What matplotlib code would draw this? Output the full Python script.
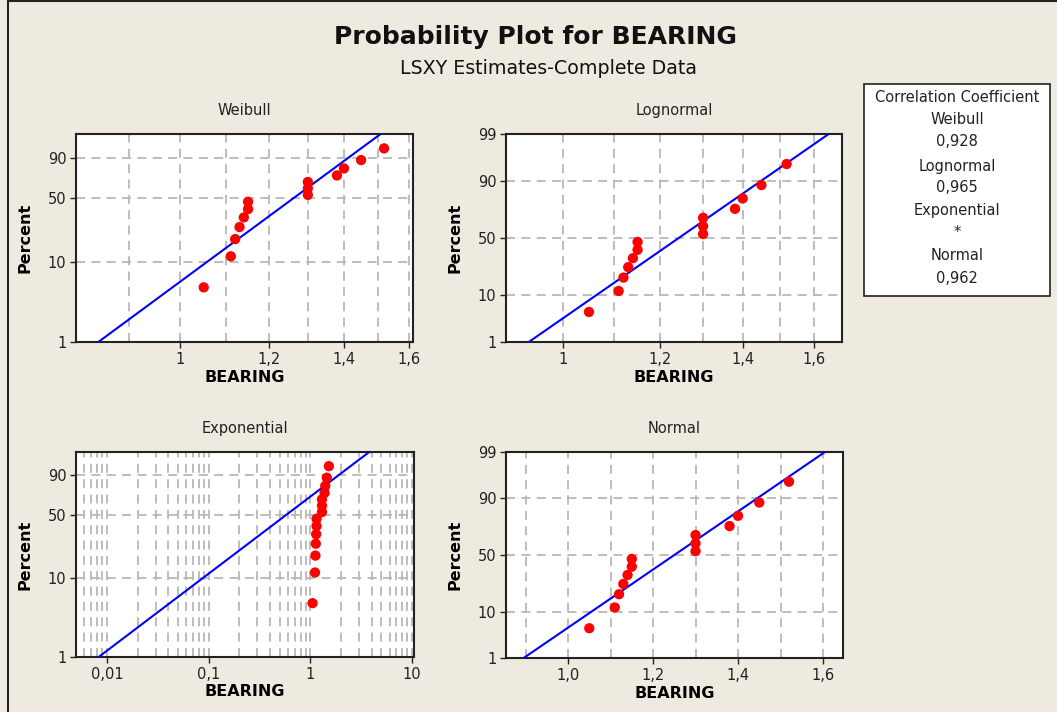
import matplotlib
matplotlib.use("Agg")
import matplotlib.pyplot as plt
import matplotlib.ticker as mticker
from matplotlib.lines import Line2D
from matplotlib.patches import Rectangle
from statistics import NormalDist
import numpy as np

# data
bearing = [1.05, 1.11, 1.12, 1.13, 1.14, 1.15, 1.15, 1.30, 1.30, 1.30, 1.38, 1.40, 1.45, 1.52]
percent = [4.9, 11.8, 18.8, 25.7, 32.6, 39.6, 46.5, 53.5, 60.4, 67.4, 74.3, 81.2, 88.2, 95.1]

corr_labels = ["Weibull", "Lognormal", "Exponential", "Normal"]
corr_values = ["0,928", "0,965", "*", "0,962"]

W, H = 1057, 712
BG = "#eeeae0"
plt.rcParams["font.family"] = "DejaVu Sans"

_nd = NormalDist()
_ppf = np.vectorize(_nd.inv_cdf, otypes=[float])
_cdf = np.vectorize(_nd.cdf, otypes=[float])


def norm_fwd(p):
    p = np.clip(np.asarray(p, float) / 100, 1e-9, 1 - 1e-9)
    return _ppf(p)


def norm_inv(z):
    return 100 * _cdf(np.asarray(z, float))


def sev_fwd(p):
    p = np.clip(np.asarray(p, float) / 100, 1e-12, 1 - 1e-12)
    return np.log(-np.log(1 - p))


def sev_inv(z):
    return 100 * (1 - np.exp(-np.exp(np.asarray(z, float))))


def comma(v, pos=None):
    return "{:g}".format(v).replace(".", ",")


def comma1(v, pos=None):
    return "{:.1f}".format(v).replace(".", ",")


def make_axes(box):
    l, t, r, b = box
    ax = fig.add_axes([l / W, 1 - b / H, (r - l) / W, (b - t) / H])
    ax.set_facecolor("white")
    for s in ax.spines.values():
        s.set_linewidth(1.5)
        s.set_color("#222222")
    return ax


def style(ax, title, xlim, xticks, xgrid, fmt, yticks, ygrid=(10, 50, 90)):
    ax.set_xlim(xlim)
    ax.set_ylim(1, 99)
    ax.xaxis.set_major_locator(mticker.FixedLocator(xticks))
    ax.xaxis.set_major_formatter(mticker.FuncFormatter(fmt))
    ax.xaxis.set_minor_locator(mticker.NullLocator())
    ax.yaxis.set_major_locator(mticker.FixedLocator(yticks))
    ax.yaxis.set_major_formatter(mticker.FuncFormatter(lambda v, p: "{:g}".format(v)))
    ax.yaxis.set_minor_locator(mticker.NullLocator())
    ax.tick_params(which="major", length=4, width=1, labelsize=10.5, colors="#222222", pad=3)
    for gx in xgrid:
        ax.axvline(gx, color="#b8b8b8", lw=1.3, ls=(0, (5, 3.5)), zorder=0.5)
    for gy in ygrid:
        ax.axhline(gy, color="#b8b8b8", lw=1.3, ls=(0, (5, 3.5)), zorder=0.5)
    ax.set_ylabel("Percent", fontsize=11.5, fontweight="bold")
    ax.yaxis.set_label_coords(-0.13, 0.5)
    ax.set_xlabel("BEARING", fontsize=11.5, fontweight="bold")
    ax.xaxis.set_label_coords(0.5, -0.17)
    ax.xaxis.label.set_va("center")
    ax.text(0.5, 1.115, title, transform=ax.transAxes, ha="center", va="center",
            fontsize=10.5, color="#222222")


def points(ax):
    ax.scatter(bearing, percent, s=55, color="#ff0000", zorder=4, clip_on=False,
               edgecolors="none")


fig = plt.figure(figsize=(W / 100, H / 100), dpi=100)
fig.patch.set_facecolor(BG)

x = np.array(bearing)
p = np.array(percent)
zr = np.linspace(norm_fwd(1), norm_fwd(99), 200)
zs = np.linspace(sev_fwd(1), sev_fwd(99), 200)
LINE = dict(color="#0000ff", lw=1.5, zorder=3)

# Weibull
ax = make_axes((76, 134, 413, 342))
ax.set_xscale("log")
ax.set_yscale("function", functions=(sev_fwd, sev_inv))
b, a = np.polyfit(sev_fwd(p), np.log(x), 1)
ax.plot(np.exp(a + b * zs), sev_inv(zs), **LINE)
points(ax)
style(ax, "Weibull", (0.808, 1.613), [1, 1.2, 1.4, 1.6],
      [0.9, 1.0, 1.1, 1.2, 1.3, 1.4, 1.5, 1.6], comma, [1, 10, 50, 90])

# Lognormal
ax = make_axes((506, 134, 842, 342))
ax.set_xscale("log")
ax.set_yscale("function", functions=(norm_fwd, norm_inv))
b, a = np.polyfit(norm_fwd(p), np.log(x), 1)
ax.plot(np.exp(a + b * zr), norm_inv(zr), **LINE)
points(ax)
style(ax, "Lognormal", (0.899, 1.686), [1, 1.2, 1.4, 1.6],
      [1.0, 1.1, 1.2, 1.3, 1.4, 1.5, 1.6], comma, [1, 10, 50, 90, 99])

# Exponential
ax = make_axes((76, 452, 414, 657))
ax.set_xscale("log")
ax.set_yscale("function", functions=(sev_fwd, sev_inv))
w = -np.log(1 - p / 100)
theta = np.sum(x * w) / np.sum(w * w)
ax.plot(theta * np.exp(zs), sev_inv(zs), **LINE)
points(ax)
exp_grid = [m * 10.0 ** e for e in (-3, -2, -1, 0, 1) for m in range(1, 10)]
exp_grid = [g for g in exp_grid if 0.00495 < g < 10.45]
style(ax, "Exponential", (0.00495, 10.45), [0.01, 0.1, 1, 10],
      exp_grid, comma, [1, 10, 50, 90])

# Normal
ax = make_axes((506, 452, 843, 658))
ax.set_yscale("function", functions=(norm_fwd, norm_inv))
b, a = np.polyfit(norm_fwd(p), x, 1)
ax.plot(a + b * zr, norm_inv(zr), **LINE)
points(ax)
style(ax, "Normal", (0.854, 1.647), [1.0, 1.2, 1.4, 1.6],
      [0.9, 1.0, 1.1, 1.2, 1.3, 1.4, 1.5, 1.6], comma1, [1, 10, 50, 90, 99])

# titles
fig.text(535 / W, 1 - 37 / H, "Probability Plot for BEARING", ha="center", va="center",
         fontsize=18, fontweight="bold", color="#111111")
fig.text(548 / W, 1 - 68 / H, "LSXY Estimates-Complete Data", ha="center", va="center",
         fontsize=13.7, color="#111111")

# correlation box
fig.patches.append(Rectangle((864 / W, 1 - 296 / H), 186 / W, 212 / H, transform=fig.transFigure,
                             facecolor="white", edgecolor="#222222", lw=1.2))
lines = ["Correlation Coefficient"]
for lab, val in zip(corr_labels, corr_values):
    lines += [lab, val]
ys = [98, 120, 142, 166, 188, 211, 232, 256, 279]
for s, yy in zip(lines, ys):
    fig.text(957 / W, 1 - yy / H, s, ha="center", va="center", fontsize=10.5, color="#222222")

# outer frame
fig.lines.append(Line2D([8 / W, 8 / W], [0, 1], transform=fig.transFigure, color="#222222", lw=1.5))
fig.lines.append(Line2D([8 / W, 1], [1 - 1 / H, 1 - 1 / H], transform=fig.transFigure,
                        color="#222222", lw=1.5))

fig.savefig("out.png", dpi=100, facecolor=BG)
